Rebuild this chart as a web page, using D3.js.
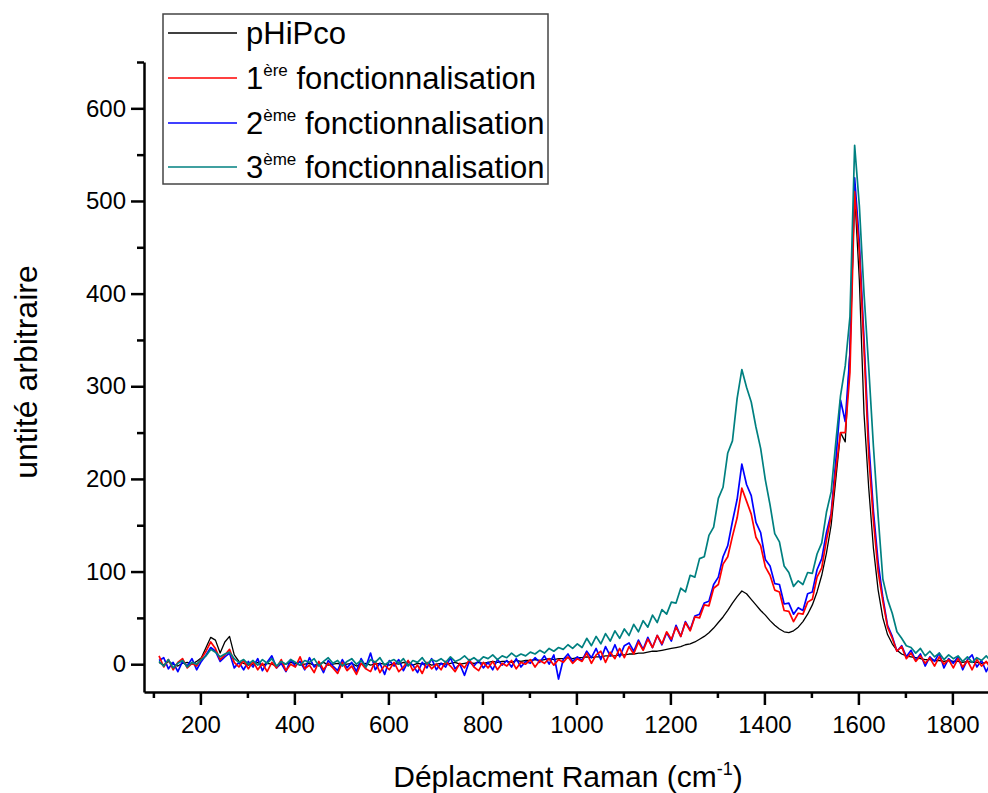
<!DOCTYPE html>
<html><head><meta charset="utf-8">
<script src="https://cdn.jsdelivr.net/npm/d3@7"></script>
<style>
body{margin:0;background:#fff}
text{font-family:"Liberation Sans",Arial,Helvetica,sans-serif}
</style>
</head><body>
<svg id="c" width="988" height="793" xmlns="http://www.w3.org/2000/svg"></svg>
<script>
// Raman shift sample positions (cm-1)
const wavenumbers = d3.range(112, 1883, 10);

const pHiPco = [
  2, -1, 3, 0, -2, 1, 2, 0, 3, 7,
  18, 29, 26, 12, 24, 30, 10, 3, 1, -1,
  0, 2, -1, 1, 0, -2, 1, 0, 2, 1,
  -1, 0, 1, -1, 0, 2, -1, 0, 1, -1,
  0, 1, -2, 0, 1, -1, 0, 1, 0, -1,
  1, 0, 2, 0, -1, 1, 0, 1, -1, 0,
  1, 0, 1, 2, 0, 1, 2, 1, 2, 1,
  2, 3, 2, 3, 3, 2, 4, 3, 4, 4,
  5, 4, 5, 6, 5, 6, 6, 7, 6, 7,
  7, 8, 7, 8, 8, 9, 9, 9, 10, 10,
  11, 11, 12, 12, 13, 14, 14, 15, 16, 17,
  18, 19, 21, 22, 24, 27, 30, 34, 39, 45,
  51, 58, 66, 73, 79, 76, 70, 64, 58, 53,
  47, 42, 38, 35, 34, 36, 40, 46, 54, 64,
  78, 96, 120, 150, 200, 250, 240, 340, 508, 415,
  270, 190, 125, 80, 50, 32, 22, 15, 11, 9,
  8, 7, 6, 5, 5, 4, 4, 3, 4, 3,
  3, 2, 3, 2, 2, 1, 2, 1
];

const fonct1 = [
  9, -3, 5, -6, 2, 6, -4, 1, -2, 6,
  14, 24, 17, 5, 10, 16, 2, -3, 4, -5,
  3, -6, 1, -8, 2, -4, 5, -7, 0, -3,
  8, -5, -1, -9, 3, -6, 1, -4, -10, 2,
  -7, -2, -11, 1, -5, -8, 3, -9, -1, -6,
  2, -8, -3, 4, -7, -1, -10, 2, -5, 0,
  -6, 3, -2, -8, 1, -4, 5, -3, -7, 2,
  -4, 3, -6, 1, -2, 4, -5, 2, 0, 5,
  -3, 4, 1, 6, -1, 5, 2, 8, 1, 6,
  3, 12, 1, 10, 14, 2, 13, 6, 17, 7,
  19, 11, 24, 15, 27, 18, 31, 22, 35, 27,
  40, 30, 45, 36, 51, 50, 64, 63, 82, 86,
  108, 116, 138, 158, 190, 176, 162, 137, 128, 105,
  96, 80, 78, 58, 57, 46, 55, 54, 67, 70,
  94, 104, 134, 160, 210, 250, 250, 315, 510, 445,
  340, 225, 155, 100, 68, 40, 28, 14, 19, 6,
  12, 3, 9, 1, 7, -2, 8, 0, 5, -4,
  6, -3, 4, -6, 5, -2, 3, -5
];

const fonct2 = [
  4, 7, -5, 2, -8, 3, -2, 6, -6, 3,
  10, 18, 14, 3, 8, 12, -4, 2, -6, 3,
  -3, 6, -7, 2, 9, -4, 1, -8, 5, -2,
  3, -6, 7, -3, 1, -9, 4, -2, -7, 5,
  -4, 2, -8, 6, -3, 12, -6, 1, -11, 4,
  -2, 5, -7, 3, -1, -9, 2, -4, 6, -6,
  1, -3, 7, -5, 0, -12, 3, -2, 4, -4,
  2, -6, 5, -1, 4, -3, 6, -3, 3, 1,
  7, 2, 9, 0, 10, -16, 5, 11, 3, 8,
  4, 14, 7, 17, 5, 19, 9, 21, 8, 20,
  23, 14, 26, 16, 29, 18, 31, 21, 34, 25,
  42, 30, 46, 37, 52, 54, 66, 68, 86, 94,
  116, 128, 154, 178, 216, 194, 182, 153, 142, 113,
  106, 87, 86, 65, 66, 54, 61, 58, 76, 78,
  102, 114, 142, 163, 220, 285, 262, 335, 525, 455,
  350, 240, 165, 110, 72, 42, 30, 14, 20, 8,
  15, 4, 11, -2, 8, 3, 12, -4, 6, 1,
  8, -6, 5, 10, -3, 4, -8, 2
];

const fonct3 = [
  3, -2, 5, -4, 1, 4, -3, 2, 0, 5,
  9, 16, 13, 8, 11, 13, 6, 2, 5, 0,
  4, -1, 5, 1, 6, -2, 3, 0, 5, 2,
  -1, 4, 2, 6, -2, 3, 7, 1, 4, -2,
  3, 6, 0, 4, -3, 5, 2, 7, -1, 3,
  5, 1, 6, -2, 4, 2, 7, 0, 5, 3,
  6, 2, 8, 3, 5, 9, 4, 7, 3, 8,
  6, 10, 5, 9, 7, 12, 8, 11, 9, 13,
  11, 15, 12, 17, 14, 18, 16, 21, 17, 22,
  18, 28, 20, 30, 22, 33, 25, 36, 28, 38,
  31, 43, 35, 47, 40, 53, 45, 59, 54, 67,
  66, 82, 78, 96, 94, 114, 116, 139, 148, 179,
  191, 228, 241, 287, 318, 299, 283, 256, 233, 199,
  172, 141, 132, 106, 99, 84, 90, 86, 99, 98,
  119, 131, 164, 186, 240, 290, 322, 375, 560, 495,
  400, 320, 235, 160, 92, 70, 55, 35, 28, 20,
  18, 12, 17, 9, 14, 8, 12, 5, 10, 6,
  9, 3, 8, 2, 7, 4, 9, 3
];

const legendNums = ["", "1", "2", "3"];
const legendSups = ["", "ère", "ème", "ème"];
const legendMain = ["pHiPco", " fonctionnalisation", " fonctionnalisation", " fonctionnalisation"];
const seriesColors = ["#000000", "#ff0000", "#0000ff", "#008080"];

const xMajorTicks = [200, 400, 600, 800, 1000, 1200, 1400, 1600, 1800];
const xMinorTicks = [100, 300, 500, 700, 900, 1100, 1300, 1500, 1700];
const yMajorTicks = [0, 100, 200, 300, 400, 500, 600];
const yMinorTicks = [50, 150, 250, 350, 450, 550, 650];

const allSeries = [pHiPco, fonct1, fonct2, fonct3];

const svg = d3.select("#c");
svg.append("rect").attr("width", 988).attr("height", 793).attr("fill", "#fff");

const x = d3.scaleLinear().domain([80, 1880]).range([144, 990]);
const y = d3.scaleLinear().domain([-30, 650]).range([692, 62]);

// lines (draw order: black, blue, red, teal)
const line = d3.line().x((d, i) => x(wavenumbers[i])).y(d => y(d));
const order = [0, 2, 1, 3];
const widths = [1.3, 1.7, 1.7, 1.7];
const plot = svg.append("g");
order.forEach(k => {
  plot.append("path")
    .datum(allSeries[k])
    .attr("d", line)
    .attr("fill", "none")
    .attr("stroke", seriesColors[k])
    .attr("stroke-width", widths[k])
    .attr("stroke-linejoin", "round");
});

// axes
function styleAxis(g) {
  g.select(".domain").attr("stroke", "#000").attr("stroke-width", 2.5);
  g.selectAll(".tick line").attr("stroke", "#000").attr("stroke-width", 2.5);
  g.selectAll(".tick text").attr("fill", "#000").attr("font-size", 24)
    .attr("font-family", "'Liberation Sans', Arial, sans-serif");
}

const gx = svg.append("g").attr("transform", "translate(0,692)");
gx.call(d3.axisBottom(x).tickValues(xMajorTicks).tickSize(13).tickSizeOuter(0).tickPadding(11).tickFormat(d3.format("d")));
styleAxis(gx);
const gxm = svg.append("g").attr("transform", "translate(0,692)");
gxm.call(d3.axisBottom(x).tickValues(xMinorTicks).tickSize(6).tickFormat(""));
gxm.select(".domain").remove();
styleAxis(gxm);

const gy = svg.append("g").attr("transform", "translate(144,0)");
gy.call(d3.axisLeft(y).tickValues(yMajorTicks).tickSize(13).tickSizeOuter(0).tickPadding(5).tickFormat(d3.format("d")));
styleAxis(gy);
const gym = svg.append("g").attr("transform", "translate(144,0)");
gym.call(d3.axisLeft(y).tickValues(yMinorTicks).tickSize(7).tickFormat(""));
gym.select(".domain").remove();
styleAxis(gym);

// axis titles
const xt = svg.append("text")
  .attr("x", 568).attr("y", 787)
  .attr("text-anchor", "middle")
  .attr("font-size", 30).attr("fill", "#000")
  .style("white-space", "pre");
xt.append("tspan").text("Déplacment Raman (cm");
xt.append("tspan").attr("dy", -12).attr("font-size", 18).text("-1");
xt.append("tspan").attr("dy", 12).text(")");

svg.append("text")
  .attr("transform", "translate(37,372) rotate(-90)")
  .attr("text-anchor", "middle")
  .attr("font-size", 32).attr("fill", "#000")
  .text("untité arbitraire");

// legend
const lg = svg.append("g");
lg.append("rect").attr("x", 163).attr("y", 14).attr("width", 385).attr("height", 170)
  .attr("fill", "#fff").attr("stroke", "#444").attr("stroke-width", 1.5);
const rowY = [33, 78, 123, 167];
allSeries.forEach((s, k) => {
  lg.append("line").attr("x1", 168).attr("x2", 237).attr("y1", rowY[k]).attr("y2", rowY[k])
    .attr("stroke", seriesColors[k]).attr("stroke-width", 1.3);
  const t = lg.append("text").attr("x", 246).attr("y", rowY[k] + 11)
    .attr("font-size", 31).attr("fill", "#000").style("white-space", "pre");
  if (legendNums[k]) {
    t.append("tspan").text(legendNums[k]);
    t.append("tspan").attr("dy", -13).attr("font-size", 17).text(legendSups[k]);
    t.append("tspan").attr("dy", 13).text(legendMain[k]);
  } else {
    t.append("tspan").text(legendMain[k]);
  }
});
</script>
</body></html>
